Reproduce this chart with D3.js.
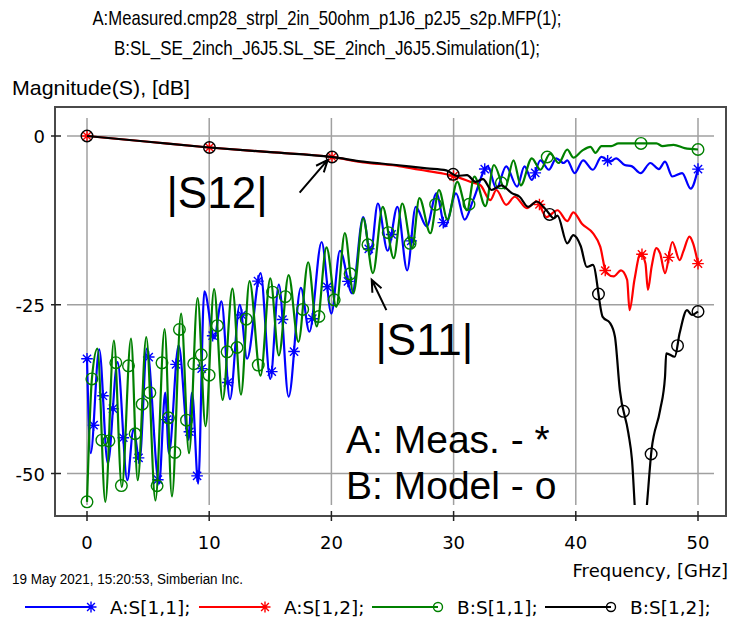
<!DOCTYPE html>
<html><head><meta charset="utf-8">
<script src="https://cdn.jsdelivr.net/npm/d3@7"></script>
<style>body{margin:0;background:#fff;} svg{display:block;}</style>
</head><body>
<script>
// ---------- data ----------
const titleLines = ["A:Measured.cmp28_strpl_2in_50ohm_p1J6_p2J5_s2p.MFP(1);",
                    "B:SL_SE_2inch_J6J5.SL_SE_2inch_J6J5.Simulation(1);"];
const yAxisTitle = "Magnitude(S), [dB]";
const xAxisTitle = "Frequency, [GHz]";
const footnote = "19 May 2021, 15:20:53, Simberian Inc.";
const xTicks = [0, 10, 20, 30, 40, 50];
const yTicks = [0, -25, -50];

// A:S[1,1] measured
const freqA11 = [0.0,0.3,1.0,1.7,2.5,3.3,3.8,4.3,4.9,5.9,6.4,6.7,7.5,8.3,8.6,9.1,9.6,10.4,11.0,11.7,12.5,13.1,14.2,15.0,15.7,16.5,17.5,18.2,19.2,20.0,20.7,21.7,22.6,23.2,23.8,24.6,25.4,26.2,26.9,27.8,28.6,29.3,30.2,30.9,31.6,32.8,33.5,34.3,35.2,35.8,36.4,37.1,37.8,38.4,39.0,39.3,39.9,40.6,41.4,42.1,42.8,43.3,44.0,44.6,45.3,46.1,46.8,47.3,47.9,48.7,49.4,50.0];
const dbA11 = [-33.0,-47.0,-31.6,-48.5,-33.5,-51.0,-43.5,-48.0,-31.5,-51.5,-38.0,-47.0,-31.0,-45.0,-38.0,-51.5,-23.0,-30.0,-24.5,-39.0,-25.0,-33.0,-20.3,-36.0,-22.0,-38.6,-22.5,-29.0,-15.7,-26.3,-17.0,-23.3,-12.0,-17.5,-10.0,-17.0,-10.5,-19.9,-10.5,-13.4,-8.5,-13.4,-8.5,-12.4,-9.5,-4.5,-7.8,-4.5,-7.5,-4.5,-6.5,-3.6,-5.0,-3.3,-4.0,-3.6,-5.5,-3.6,-5.0,-3.1,-3.8,-3.3,-4.3,-4.5,-5.5,-4.0,-4.9,-3.8,-6.0,-5.5,-7.8,-4.9];

// A:S[1,2] measured
const freqA12 = [0,5,10,15,20,22.6,25.3,27.2,29.2,30.5,31.4,32.2,33.0,33.5,34.3,35.0,36.0,36.8,37.6,38.5,39.3,39.8,40.5,41.4,42.0,42.5,43.1,43.7,44.2,44.4,44.8,45.3,45.7,45.9,46.2,46.6,46.9,47.3,47.9,48.5,48.8,49.3,49.6,50.0];
const dbA12 = [0,-0.85,-1.7,-2.4,-3.1,-3.9,-4.4,-5.0,-5.6,-6.2,-6.8,-7.3,-9.5,-8.0,-10.2,-9.0,-10.7,-9.7,-12.0,-11.0,-12.6,-11.3,-13.0,-14.4,-16.4,-20.3,-20.8,-19.9,-21.3,-25.8,-21.3,-17.4,-18.9,-22.8,-19.4,-16.6,-17.4,-20.3,-15.7,-18.4,-17.1,-14.9,-15.9,-18.9];

// B:S[1,1] model
const freqB11 = [0.0,0.4,0.85,1.5,2.2,2.85,3.6,4.15,4.85,5.6,6.35,6.95,7.7,8.35,9.05,9.7,10.4,11.1,11.9,12.6,13.3,14.2,15.0,15.7,16.5,17.3,18.1,18.8,19.6,20.4,21.1,21.8,22.6,23.4,24.2,25.1,25.8,26.6,27.2,28.1,28.8,29.5,30.3,31.1,31.7,32.6,33.3,34.2,34.9,35.5,36.4,37.1,37.9,38.6,39.3,39.8,40.5,41.2,41.6,42.1,42.9,43.5,46.6,47.1,48.0,48.9,50.0];
const dbB11 = [-54.2,-36.0,-31.5,-54.2,-30.3,-52.0,-30.0,-51.0,-29.8,-54.0,-28.6,-53.4,-26.3,-47.0,-24.0,-43.0,-22.7,-39.1,-22.6,-38.3,-21.5,-35.5,-21.1,-32.5,-20.6,-30.5,-18.7,-28.2,-16.5,-25.3,-14.4,-23.3,-12.2,-20.3,-10.5,-18.1,-10.0,-16.6,-9.2,-14.4,-8.0,-12.4,-6.8,-11.0,-6.0,-10.4,-4.3,-7.8,-3.6,-7.3,-3.3,-5.0,-2.6,-4.0,-2.0,-3.2,-2.2,-1.6,-2.5,-1.5,-1.5,-1.1,-1.1,-1.5,-1.3,-1.8,-2.0];

// B:S[1,2] model
const freqB12 = [0,5,10,15,20,22.6,25.3,27.8,29.4,30.3,31.1,31.8,32.4,33.1,33.9,34.8,35.4,36.1,36.8,37.6,38.2,38.5,39.3,39.8,40.4,40.9,41.4,42.2,42.8,43.2,43.6,44.3,44.6,44.9,45.3,45.7,46.2,46.9,47.3,47.4,48.1,48.5,49.1,49.5,50.0];
const dbB12 = [0,-0.85,-1.7,-2.4,-3.1,-3.8,-4.3,-4.8,-5.1,-5.9,-5.8,-6.8,-6.4,-8.0,-7.3,-8.5,-9.0,-10.5,-9.7,-11.0,-12.2,-11.8,-15.9,-14.7,-16.3,-19.4,-19.1,-26.8,-27.7,-29.7,-37.6,-44.0,-48.0,-57.0,-62.0,-57.0,-46.5,-40.6,-35.7,-32.2,-32.7,-29.2,-25.8,-26.5,-26.0];

const seriesNames = ["A:S[1,1];", "A:S[1,2];", "B:S[1,1];", "B:S[1,2];"];
const seriesColors = ["#0000ff", "#ff0000", "#008000", "#000000"];
const seriesMarkers = ["asterisk", "asterisk", "circle", "circle"];

// annotations in data units
const annoText = ["|S12|", "|S11|"];
const annoPos = [[6.5, -10.7], [23.6, -32.4]];
const arrowTail = [[17.4, -8.4], [24.5, -25.8]];
const arrowHead = [[19.7, -3.55], [23.3, -21.3]];
const noteLines = ["A: Meas. - *", "B: Model - o"];
const notePos = [[21.2, -47.0], [21.2, -53.8]];

// ---------- layout ----------
const W = 731, H = 625;
const frame = {l: 55, t: 107, r: 726, b: 516};
const svg = d3.select("body").append("svg").attr("width", W).attr("height", H)
  .style("font-family", "'DejaVu Sans', Verdana, sans-serif");

const x = d3.scaleLinear().domain([0, 50]).range([87, 698]);
const y = d3.scaleLinear().domain([0, -50]).range([136, 473.5]);

const narrow = "'Liberation Sans Narrow', 'Arial Narrow', 'Liberation Sans', sans-serif";

// titles
svg.selectAll("text.title").data(titleLines).join("text")
  .attr("x", 327).attr("y", (d, i) => 25 + i * 30)
  .attr("text-anchor", "middle")
  .attr("font-family", narrow).attr("font-size", 21)
  .attr("textLength", (d, i) => [469, 426][i]).attr("lengthAdjust", "spacingAndGlyphs")
  .text(d => d);

svg.append("text").attr("x", 12).attr("y", 95)
  .attr("font-family", narrow).attr("font-size", 21)
  .attr("textLength", 178).attr("lengthAdjust", "spacingAndGlyphs")
  .text(yAxisTitle);

// grid
const grid = svg.append("g").attr("stroke", "#a0a0a0").attr("stroke-width", 1.5);
grid.selectAll("line.v").data(xTicks).join("line")
  .attr("x1", d => x(d)).attr("x2", d => x(d)).attr("y1", 118).attr("y2", 505);
grid.selectAll("line.h").data(yTicks).join("line")
  .attr("y1", d => y(d)).attr("y2", d => y(d)).attr("x1", 67).attr("x2", 714);

// frame
svg.append("rect").attr("x", frame.l).attr("y", frame.t)
  .attr("width", frame.r - frame.l).attr("height", frame.b - frame.t)
  .attr("fill", "none").attr("stroke", "#4a4a4a").attr("stroke-width", 2);

// ticks
const tk = svg.append("g").attr("stroke", "#222").attr("stroke-width", 1.5);
tk.selectAll("line.yt").data(yTicks).join("line")
  .attr("x1", frame.l - 4).attr("x2", frame.l + 6).attr("y1", d => y(d)).attr("y2", d => y(d));
tk.selectAll("line.xt").data(xTicks).join("line")
  .attr("y1", frame.b - 5).attr("y2", frame.b + 5).attr("x1", d => x(d)).attr("x2", d => x(d));

svg.selectAll("text.yl").data(yTicks).join("text")
  .attr("x", 45).attr("y", d => y(d) + 7).attr("text-anchor", "end")
  .attr("font-size", 18).text(d => d);
svg.selectAll("text.xl").data(xTicks).join("text")
  .attr("x", d => x(d)).attr("y", 549).attr("text-anchor", "middle")
  .attr("font-size", 18).text(d => d);

svg.append("text").attr("x", 728).attr("y", 577).attr("text-anchor", "end")
  .attr("font-size", 18).text(xAxisTitle);
svg.append("text").attr("x", 12).attr("y", 584)
  .attr("font-family", narrow).attr("font-size", 14)
  .attr("textLength", 231).attr("lengthAdjust", "spacingAndGlyphs")
  .text(footnote);

// clip
const defs = svg.append("defs");
defs.append("clipPath").attr("id", "clipL").append("rect")
  .attr("x", frame.l).attr("y", frame.t + 1).attr("width", frame.r - frame.l).attr("height", 505 - frame.t - 1);
defs.append("clipPath").attr("id", "clipM").append("rect")
  .attr("x", frame.l).attr("y", frame.t).attr("width", frame.r - frame.l).attr("height", frame.b - frame.t);

// marker symbols
function asteriskPath(r) {
  const a = r * 0.7071;
  return `M${-r},0L${r},0M0,${-r}L0,${r}M${-a},${-a}L${a},${a}M${-a},${a}L${a},${-a}`;
}
function drawMarker(g, kind, px, py, color, r) {
  if (kind === "circle") {
    g.append("circle").attr("cx", px).attr("cy", py).attr("r", r)
      .attr("fill", "none").attr("stroke", color).attr("stroke-width", 1.4);
  } else {
    g.append("path").attr("d", asteriskPath(r)).attr("transform", `translate(${px},${py})`)
      .attr("fill", "none").attr("stroke", color).attr("stroke-width", 1.4);
  }
}

const seriesData = [
  d3.zip(freqA11, dbA11), d3.zip(freqA12, dbA12), d3.zip(freqB11, dbB11), d3.zip(freqB12, dbB12)
];
const line = d3.line().x(d => x(d[0])).y(d => y(d[1])).curve(d3.curveMonotoneX);

const plot = svg.append("g");
const spacing = 123;
seriesData.forEach((data, i) => {
  const p = plot.append("path").datum(data).attr("d", line)
    .attr("fill", "none").attr("stroke", seriesColors[i]).attr("stroke-width", 2.2)
    .attr("stroke-linejoin", "round").attr("clip-path", "url(#clipL)");
  const node = p.node();
  const L = node.getTotalLength();
  const mg = plot.append("g").attr("clip-path", "url(#clipM)");
  const pts = [];
  for (let d = 0; d < L - spacing * 0.25; d += spacing) pts.push(node.getPointAtLength(d));
  pts.push(node.getPointAtLength(L));
  pts.forEach(pt => drawMarker(mg, seriesMarkers[i], pt.x, pt.y, seriesColors[i], 5.8));
});

// annotations
const ann = svg.append("g");
ann.selectAll("text.ann").data(annoText).join("text")
  .attr("x", (d, i) => x(annoPos[i][0])).attr("y", (d, i) => y(annoPos[i][1]))
  .attr("font-family", "'Liberation Sans', Arial, sans-serif").attr("font-size", 44)
  .text(d => d);
arrowHead.forEach((h, i) => {
  const t = arrowTail[i];
  const hx = x(h[0]), hy = y(h[1]), tx = x(t[0]), ty = y(t[1]);
  const ang = Math.atan2(ty - hy, tx - hx);
  const len = 13, spread = 0.4;
  ann.append("path")
    .attr("d", `M${tx},${ty}L${hx},${hy}M${hx + len * Math.cos(ang - spread)},${hy + len * Math.sin(ang - spread)}L${hx},${hy}L${hx + len * Math.cos(ang + spread)},${hy + len * Math.sin(ang + spread)}`)
    .attr("fill", "none").attr("stroke", "#000").attr("stroke-width", 2);
});
ann.selectAll("text.note").data(noteLines).join("text")
  .attr("x", (d, i) => x(notePos[i][0])).attr("y", (d, i) => y(notePos[i][1]))
  .attr("font-family", "'Liberation Sans', Arial, sans-serif").attr("font-size", 39)
  .text(d => d);

// legend
const legX = [25, 199, 372, 545];
const leg = svg.append("g");
seriesNames.forEach((name, i) => {
  const lx = legX[i];
  leg.append("line").attr("x1", lx).attr("x2", lx + 66).attr("y1", 607).attr("y2", 607)
    .attr("stroke", seriesColors[i]).attr("stroke-width", 2.2);
  drawMarker(leg, seriesMarkers[i], lx + 66, 607, seriesColors[i], seriesMarkers[i] === "circle" ? 4.5 : 5.5);
  leg.append("text").attr("x", lx + 85).attr("y", 614).attr("font-size", 18.5).text(name);
});
</script>
</body></html>
